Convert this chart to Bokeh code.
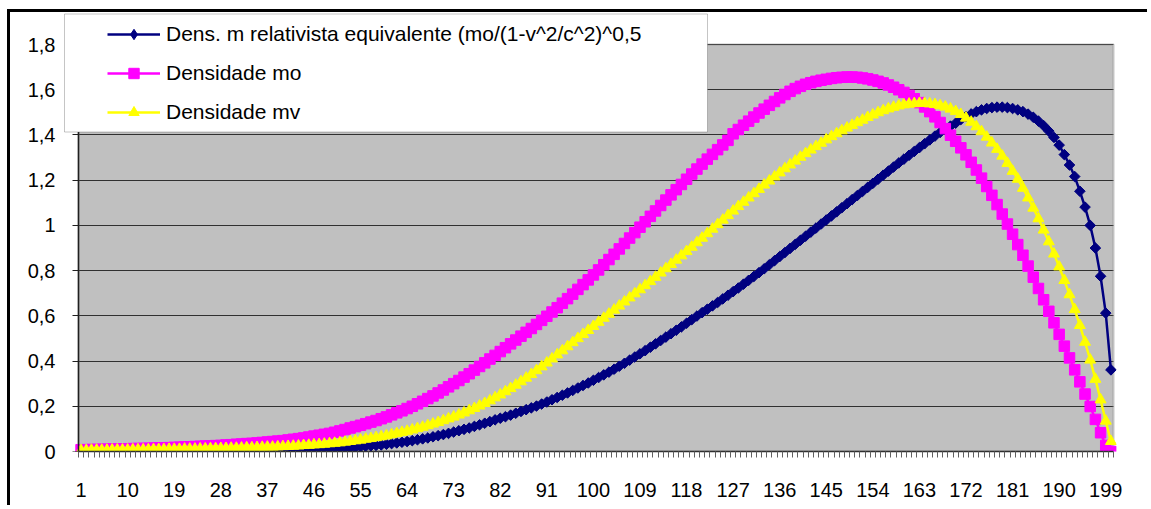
from bokeh.plotting import figure
from bokeh.models import (FixedTicker, Legend, LegendItem, BoxAnnotation, Range1d,
                          ColumnDataSource, Grid, LinearAxis, CustomJSTickFormatter)
from bokeh.embed import file_html
from bokeh.resources import INLINE

# ---------------- data ----------------
categories = list(range(1, 201))

dens_rel = [
    0.000, 0.000, 0.000, 0.000, 0.000, 0.000, 0.000, 0.000, 0.000, 0.000,
    0.000, 0.000, 0.000, 0.000, 0.000, 0.000, 0.001, 0.001, 0.001, 0.001,
    0.001, 0.001, 0.001, 0.001, 0.001, 0.001, 0.001, 0.002, 0.002, 0.002,
    0.002, 0.002, 0.003, 0.003, 0.003, 0.004, 0.004, 0.004, 0.005, 0.005,
    0.006, 0.006, 0.007, 0.008, 0.008, 0.009, 0.010, 0.011, 0.012, 0.013,
    0.014, 0.016, 0.017, 0.019, 0.021, 0.023, 0.025, 0.027, 0.029, 0.032,
    0.035, 0.038, 0.041, 0.044, 0.048, 0.052, 0.056, 0.060, 0.065, 0.070,
    0.075, 0.080, 0.086, 0.092, 0.098, 0.104, 0.111, 0.118, 0.125, 0.132,
    0.140, 0.147, 0.154, 0.161, 0.169, 0.177, 0.185, 0.193, 0.201, 0.210,
    0.219, 0.229, 0.239, 0.249, 0.259, 0.270, 0.281, 0.292, 0.303, 0.315,
    0.327, 0.339, 0.351, 0.364, 0.377, 0.390, 0.404, 0.418, 0.432, 0.446,
    0.461, 0.476, 0.491, 0.506, 0.521, 0.536, 0.551, 0.567, 0.583, 0.599,
    0.614, 0.629, 0.644, 0.659, 0.675, 0.691, 0.707, 0.723, 0.740, 0.757,
    0.774, 0.791, 0.808, 0.826, 0.844, 0.862, 0.880, 0.898, 0.916, 0.934,
    0.952, 0.970, 0.988, 1.006, 1.024, 1.042, 1.060, 1.078, 1.096, 1.114,
    1.132, 1.150, 1.168, 1.186, 1.204, 1.222, 1.240, 1.258, 1.276, 1.293,
    1.310, 1.327, 1.344, 1.361, 1.378, 1.395, 1.411, 1.425, 1.439, 1.452,
    1.468, 1.481, 1.493, 1.503, 1.511, 1.517, 1.521, 1.523, 1.523, 1.521,
    1.517, 1.511, 1.503, 1.492, 1.478, 1.461, 1.441, 1.417, 1.389, 1.355,
    1.313, 1.267, 1.216, 1.151, 1.081, 1.000, 0.900, 0.775, 0.612, 0.361,
]

dens_mo = [
    0.008, 0.008, 0.009, 0.009, 0.010, 0.010, 0.011, 0.011, 0.012, 0.012,
    0.013, 0.013, 0.014, 0.014, 0.015, 0.016, 0.016, 0.017, 0.018, 0.019,
    0.020, 0.021, 0.022, 0.023, 0.024, 0.025, 0.026, 0.027, 0.029, 0.030,
    0.032, 0.033, 0.035, 0.036, 0.038, 0.040, 0.042, 0.044, 0.046, 0.048,
    0.051, 0.054, 0.057, 0.060, 0.064, 0.068, 0.072, 0.076, 0.080, 0.085,
    0.091, 0.097, 0.104, 0.110, 0.116, 0.123, 0.130, 0.137, 0.145, 0.153,
    0.162, 0.171, 0.180, 0.190, 0.200, 0.211, 0.222, 0.234, 0.246, 0.259,
    0.272, 0.286, 0.300, 0.314, 0.329, 0.344, 0.360, 0.376, 0.392, 0.409,
    0.425, 0.442, 0.459, 0.476, 0.493, 0.510, 0.527, 0.544, 0.562, 0.580,
    0.598, 0.617, 0.636, 0.656, 0.676, 0.696, 0.717, 0.738, 0.759, 0.781,
    0.803, 0.826, 0.849, 0.872, 0.896, 0.920, 0.944, 0.968, 0.992, 1.016,
    1.040, 1.064, 1.088, 1.112, 1.135, 1.158, 1.181, 1.204, 1.227, 1.249,
    1.271, 1.293, 1.314, 1.335, 1.356, 1.376, 1.405, 1.424, 1.443, 1.461,
    1.479, 1.497, 1.514, 1.531, 1.548, 1.564, 1.579, 1.593, 1.605, 1.615,
    1.624, 1.631, 1.637, 1.642, 1.646, 1.650, 1.653, 1.655, 1.656, 1.656,
    1.655, 1.652, 1.648, 1.643, 1.637, 1.630, 1.621, 1.611, 1.600, 1.588,
    1.575, 1.560, 1.543, 1.524, 1.503, 1.480, 1.455, 1.428, 1.399, 1.372,
    1.343, 1.312, 1.279, 1.245, 1.209, 1.172, 1.133, 1.092, 1.050, 1.006,
    0.961, 0.915, 0.868, 0.820, 0.771, 0.721, 0.671, 0.620, 0.569, 0.518,
    0.466, 0.414, 0.361, 0.308, 0.254, 0.199, 0.142, 0.083, 0.027, 0.000,
]

dens_mv = [
    0.005, 0.005, 0.006, 0.006, 0.006, 0.006, 0.007, 0.007, 0.007, 0.007,
    0.008, 0.008, 0.008, 0.008, 0.009, 0.009, 0.009, 0.010, 0.010, 0.010,
    0.011, 0.011, 0.011, 0.012, 0.012, 0.013, 0.013, 0.014, 0.014, 0.015,
    0.015, 0.016, 0.017, 0.017, 0.018, 0.019, 0.020, 0.020, 0.021, 0.022,
    0.023, 0.024, 0.025, 0.027, 0.028, 0.030, 0.031, 0.033, 0.035, 0.037,
    0.039, 0.042, 0.045, 0.048, 0.051, 0.055, 0.058, 0.062, 0.066, 0.070,
    0.075, 0.080, 0.085, 0.090, 0.096, 0.102, 0.108, 0.115, 0.122, 0.129,
    0.137, 0.145, 0.153, 0.162, 0.171, 0.181, 0.191, 0.202, 0.213, 0.225,
    0.238, 0.251, 0.265, 0.279, 0.294, 0.309, 0.325, 0.341, 0.358, 0.375,
    0.392, 0.410, 0.428, 0.446, 0.464, 0.482, 0.500, 0.518, 0.536, 0.554,
    0.572, 0.590, 0.608, 0.626, 0.644, 0.662, 0.680, 0.698, 0.716, 0.734,
    0.752, 0.771, 0.790, 0.809, 0.828, 0.847, 0.866, 0.885, 0.904, 0.924,
    0.944, 0.964, 0.984, 1.004, 1.024, 1.044, 1.064, 1.084, 1.103, 1.122,
    1.141, 1.160, 1.179, 1.197, 1.215, 1.233, 1.251, 1.268, 1.285, 1.302,
    1.318, 1.334, 1.349, 1.364, 1.379, 1.393, 1.406, 1.419, 1.431, 1.443,
    1.455, 1.466, 1.478, 1.489, 1.499, 1.508, 1.516, 1.523, 1.529, 1.534,
    1.537, 1.539, 1.540, 1.540, 1.538, 1.535, 1.530, 1.524, 1.515, 1.504,
    1.491, 1.475, 1.457, 1.437, 1.415, 1.391, 1.365, 1.337, 1.307, 1.275,
    1.240, 1.205, 1.165, 1.122, 1.077, 1.030, 0.980, 0.928, 0.874, 0.817,
    0.757, 0.694, 0.628, 0.558, 0.484, 0.405, 0.320, 0.229, 0.135, 0.045,
]

series_labels = [
    "Dens. m relativista equivalente (mo/(1-v^2/c^2)^0,5",
    "Densidade mo",
    "Densidade mv",
]
series_colors = ["#000080", "#FF00FF", "#FFFF00"]

x_tick_values = list(range(1, 200, 9))
y_tick_values = [0, 0.2, 0.4, 0.6, 0.8, 1, 1.2, 1.4, 1.6, 1.8]
y_tick_labels = ["0", "0,2", "0,4", "0,6", "0,8", "1", "1,2", "1,4", "1,6", "1,8"]

FONT = "Liberation Sans"

# ---------------- layout (page pixels) ----------------
CANVAS_X0, CANVAS_Y0 = 10, 12          # canvas origin on the page (after css border)
W, H = 1140, 496
AREA_L, AREA_R, AREA_T, AREA_B = 78, 1113, 44, 451   # grey plot area
FRAME_L, FRAME_R, FRAME_T = 63, 1116, 12             # frame extends under the legend
X0, X1 = 0.5, 200.5
Y0, Y1 = 0.0, 1.8
px_x = (AREA_R - AREA_L) / (X1 - X0)
px_y = (AREA_B - AREA_T) / (Y1 - Y0)
x_start = X0 - (AREA_L - FRAME_L) / px_x
x_end = X1 + (FRAME_R - AREA_R) / px_x
y_end = Y1 + (AREA_T - FRAME_T) / px_y

p = figure(width=W, height=H, output_backend="svg", toolbar_location=None,
           x_range=Range1d(x_start, x_end), y_range=Range1d(Y0, y_end),
           min_border_left=FRAME_L - CANVAS_X0, min_border_right=W - (FRAME_R - CANVAS_X0),
           min_border_top=FRAME_T - CANVAS_Y0, min_border_bottom=H - (AREA_B - CANVAS_Y0),
           background_fill_color="white", border_fill_color="white")
p.outline_line_color = None
p.margin = (9, 0, 0, 7)
p.styles = {"border-top": "3px solid black", "border-left": "3px solid black"}

# grey plot area
plot_area = BoxAnnotation(left=X0, right=X1, bottom=Y0, top=Y1,
                          fill_color="#C0C0C0", fill_alpha=1, line_color=None, level="image")
p.add_layout(plot_area)

p.xgrid.visible = False
p.ygrid.ticker = FixedTicker(ticks=y_tick_values)
p.ygrid.grid_line_color = "#303030"
p.ygrid.grid_line_width = 1
if "cross_bounds" in Grid.properties():
    p.ygrid.cross_bounds = (X0, X1)
else:
    for l, r in ((x_start, X0), (X1, x_end)):
        p.add_layout(BoxAnnotation(left=l, right=r, bottom=Y0, top=Y1, fill_color="white",
                                   fill_alpha=1, line_color=None, level="underlay"))

plot_outline = BoxAnnotation(left=X0, right=X1, bottom=Y0, top=Y1, fill_alpha=0,
                             line_color="#808080", line_width=2.5, level="underlay")
p.add_layout(plot_outline)

# x axis: category boundaries as small ticks, labels every 9th category
boundaries = [c - 0.5 for c in categories] + [categories[-1] + 0.5]
p.xaxis.ticker = FixedTicker(ticks=x_tick_values, minor_ticks=boundaries)
p.xaxis.bounds = (X0, X1)
p.xaxis.major_tick_out = 0
p.xaxis.major_tick_in = 0
p.xaxis.minor_tick_out = 6
p.xaxis.minor_tick_in = 0
p.xaxis.minor_tick_line_color = "#606060"
p.xaxis.axis_line_color = "#303030"
p.xaxis.axis_line_width = 1.5
p.xaxis.major_label_standoff = 25
p.xaxis.major_label_text_font = FONT
p.xaxis.major_label_text_font_size = "20px"
p.xaxis.major_label_text_color = "black"

# y axis labels (left panel, at the frame edge)
p.yaxis.ticker = FixedTicker(ticks=y_tick_values)
p.yaxis.bounds = (Y0, Y1)
p.yaxis.major_label_overrides = {v: s for v, s in zip(y_tick_values, y_tick_labels)}
p.yaxis.axis_line_color = None
p.yaxis.major_tick_out = 0
p.yaxis.major_tick_in = 0
p.yaxis.minor_tick_out = 0
p.yaxis.minor_tick_in = 0
p.yaxis.major_label_standoff = FRAME_L - 55
p.yaxis.major_label_text_font = FONT
p.yaxis.major_label_text_font_size = "20px"
p.yaxis.major_label_text_color = "black"

# y axis line and ticks at the edge of the grey area
y_line = LinearAxis(fixed_location=X0, ticker=FixedTicker(ticks=y_tick_values),
                    bounds=(Y0, Y1), formatter=CustomJSTickFormatter(code="return ''"),
                    major_label_text_font_size="0px", major_label_standoff=0,
                    major_tick_in=6, major_tick_out=0, minor_tick_in=0, minor_tick_out=0,
                    major_tick_line_color="#202020",
                    axis_line_color="#202020", axis_line_width=1.5)
p.add_layout(y_line, "right")

src = ColumnDataSource(dict(x=categories, rel=dens_rel, mo=dens_mo, mv=dens_mv))

# series 1: navy diamonds
r1l = p.line("x", "rel", source=src, line_color=series_colors[0], line_width=2.5)
r1k = p.scatter("x", "rel", source=src, marker="diamond", size=9,
                fill_color=series_colors[0], line_color=series_colors[0], line_width=1)
r1m = p.scatter("x", "rel", source=src, marker="square", angle=0.7854, size=7.5,
                fill_color=series_colors[0], line_color=series_colors[0], line_width=1)
# series 2: magenta squares
r2l = p.line("x", "mo", source=src, line_color=series_colors[1], line_width=2.5)
r2m = p.scatter("x", "mo", source=src, marker="square", size=10.5,
                fill_color=series_colors[1], line_color=series_colors[1], line_width=1)
# series 3: yellow triangles
r3l = p.line("x", "mv", source=src, line_color=series_colors[2], line_width=2.5)
r3m = p.scatter("x", "mv", source=src, marker="triangle", size=11,
                fill_color=series_colors[2], line_color=series_colors[2], line_width=1)

# legend box (canvas pixels)
legend_box = BoxAnnotation(left=61 - CANVAS_X0, right=704 - CANVAS_X0,
                           top=10.5 - CANVAS_Y0, bottom=128.5 - CANVAS_Y0,
                           left_units="canvas", right_units="canvas",
                           top_units="canvas", bottom_units="canvas",
                           fill_color="white", fill_alpha=1,
                           line_color="#404040", line_width=1)
p.add_layout(legend_box)

legend = Legend(items=[
    LegendItem(label=series_labels[0], renderers=[r1l, r1k]),
    LegendItem(label=series_labels[1], renderers=[r2l, r2m]),
    LegendItem(label=series_labels[2], renderers=[r3l, r3m]),
], location=(107 - FRAME_L, AREA_B - 125), orientation="vertical", padding=0, margin=0,
    spacing=13, glyph_width=53, glyph_height=26, label_height=26, label_standoff=6,
    label_text_font=FONT, label_text_font_size="21px", label_text_color="black",
    background_fill_alpha=0, border_line_alpha=0)
p.add_layout(legend)

open("out.html", "w").write(file_html(p, INLINE))
